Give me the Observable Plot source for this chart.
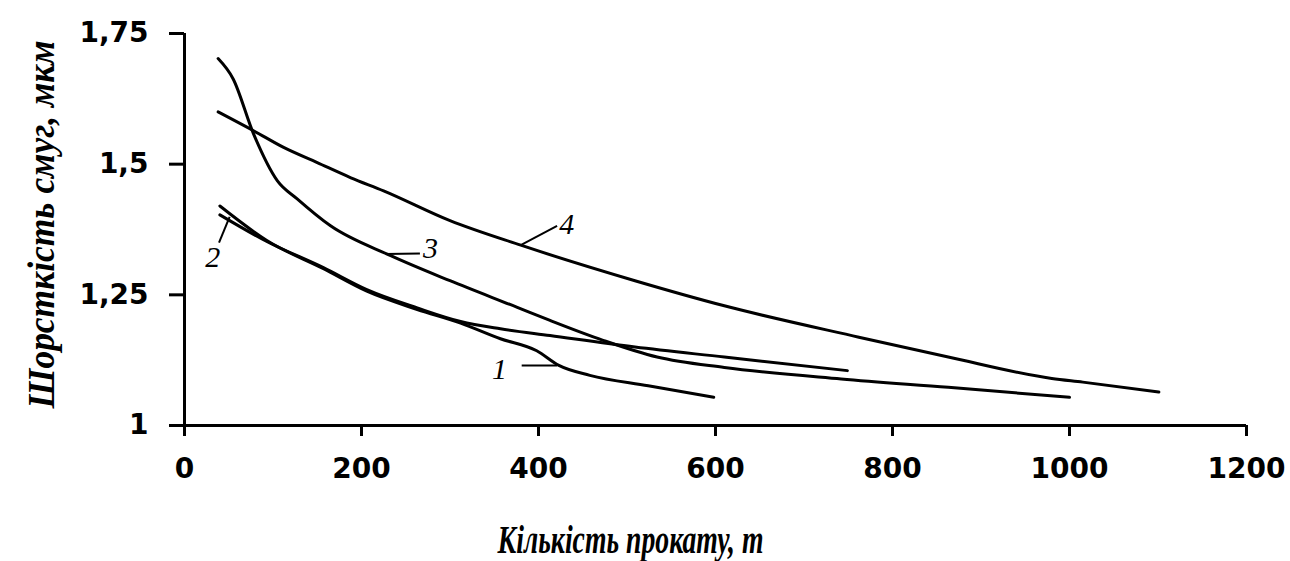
<!DOCTYPE html>
<html>
<head>
<meta charset="utf-8">
<script src="https://cdn.jsdelivr.net/npm/d3@7"></script>
<script src="https://cdn.jsdelivr.net/npm/@observablehq/plot@0.6"></script>
<style>
  html, body { margin: 0; padding: 0; background: #fff; }
</style>
</head>
<body>
<div id="chart"></div>
<script>
// Axis ticks and their labels (decimal comma)
const xTicks = [0, 200, 400, 600, 800, 1000, 1200];
const yTicks = [1, 1.25, 1.5, 1.75];
const yTickLabels = ["1", "1,25", "1,5", "1,75"];

const xTitle = "Кількість прокату, т";
const yTitle = "Шорсткість смуг, мкм";

// Curve 1
const s1x = [40, 93, 157, 206, 263, 312, 357, 398, 423, 458, 524, 598];
const s1y = [1.42, 1.354, 1.300, 1.257, 1.222, 1.196, 1.166, 1.143, 1.115, 1.096, 1.076, 1.054];
// Curve 2
const s2x = [40, 93, 157, 206, 263, 312, 357, 413, 509, 610, 749];
const s2y = [1.403, 1.352, 1.302, 1.260, 1.225, 1.199, 1.185, 1.172, 1.150, 1.131, 1.105];
// Curve 3
const s3x = [38, 55, 78, 105, 127, 165, 233, 300, 376, 413, 473, 534, 610, 742, 863, 1000];
const s3y = [1.702, 1.663, 1.558, 1.468, 1.434, 1.382, 1.325, 1.277, 1.226, 1.201, 1.163, 1.131, 1.111, 1.089, 1.073, 1.054];
// Curve 4
const s4x = [38, 78, 112, 150, 188, 225, 300, 380, 509, 610, 762, 863, 980, 1015, 1101];
const s4y = [1.600, 1.564, 1.532, 1.503, 1.474, 1.449, 1.392, 1.345, 1.277, 1.229, 1.169, 1.131, 1.090, 1.083, 1.064];

// Curve numbers and their leader lines
const labelText = ["1", "2", "3", "4"];
const labelX = [356, 32, 278, 432];
const labelY = [1.108, 1.322, 1.339, 1.385];
const leadX1 = [381, 39, 227, 381];
const leadY1 = [1.115, 1.350, 1.328, 1.346];
const leadX2 = [421, 51, 266, 421];
const leadY2 = [1.115, 1.399, 1.329, 1.382];

const toRows = (xs, ys, id) => xs.map((x, i) => ({x, y: ys[i], id}));
const curves = [
  ...toRows(s1x, s1y, 1),
  ...toRows(s2x, s2y, 2),
  ...toRows(s3x, s3y, 3),
  ...toRows(s4x, s4y, 4)
];
const labels = labelText.map((t, i) => ({t, x: labelX[i], y: labelY[i]}));
const leaders = labelText.map((t, i) => ({x1: leadX1[i], y1: leadY1[i], x2: leadX2[i], y2: leadY2[i]}));

const tickFont = {fontSize: 28, fontWeight: "bold", fontFamily: "DejaVu Sans", fill: "#000"};
const titleFont = {fontWeight: "bold", fontStyle: "italic", fontFamily: "Liberation Serif", fill: "#000"};

const chart = Plot.plot({
  width: 1290,
  height: 561,
  marginLeft: 184,
  marginRight: 44,
  marginTop: 33,
  marginBottom: 136,
  x: {domain: [0, 1200]},
  y: {domain: [1, 1.75]},
  style: {background: "#fff", color: "#000", fontFamily: "DejaVu Sans"},
  marks: [
    Plot.axisY(yTicks, {
      tickSize: 15, tickPadding: 21, strokeWidth: 3, label: null,
      tickFormat: d => yTickLabels[yTicks.indexOf(d)], ...tickFont
    }),
    Plot.axisX(xTicks, {
      tickSize: 11, tickPadding: 22, strokeWidth: 3, label: null,
      tickFormat: d => String(d), ...tickFont
    }),
    Plot.ruleX([0], {y1: 1, y2: 1.75, strokeWidth: 3, stroke: "#000"}),
    Plot.ruleY([1], {x1: 0, x2: 1200, strokeWidth: 3, stroke: "#000"}),
    Plot.line(curves, {x: "x", y: "y", z: "id", curve: "monotone-x", stroke: "#000", strokeWidth: 3}),
    Plot.link(leaders, {x1: "x1", y1: "y1", x2: "x2", y2: "y2", stroke: "#000", strokeWidth: 2}),
    Plot.text(labels, {
      x: "x", y: "y", text: "t", fontSize: 30, fontStyle: "italic",
      fontFamily: "Liberation Serif", fill: "#000", textAnchor: "middle", lineAnchor: "middle"
    }),
    Plot.text([xTitle], {
      text: d => d, frameAnchor: "bottom", textAnchor: "middle", lineAnchor: "bottom",
      dx: -85, dy: 127, fontSize: 40, ...titleFont
    }),
    Plot.text([yTitle], {
      text: d => d, frameAnchor: "left", textAnchor: "middle", lineAnchor: "bottom",
      rotate: -90, dx: -131, dy: -5, fontSize: 38, ...titleFont
    })
  ]
});

document.getElementById("chart").appendChild(chart);

// Fit the axis titles to their set lengths
const fit = (content, len) => {
  for (const t of chart.querySelectorAll("text")) {
    if (t.textContent === content) {
      t.setAttribute("textLength", len);
      t.setAttribute("lengthAdjust", "spacingAndGlyphs");
    }
  }
};
fit(xTitle, 266);
fit(yTitle, 368);
</script>
</body>
</html>
